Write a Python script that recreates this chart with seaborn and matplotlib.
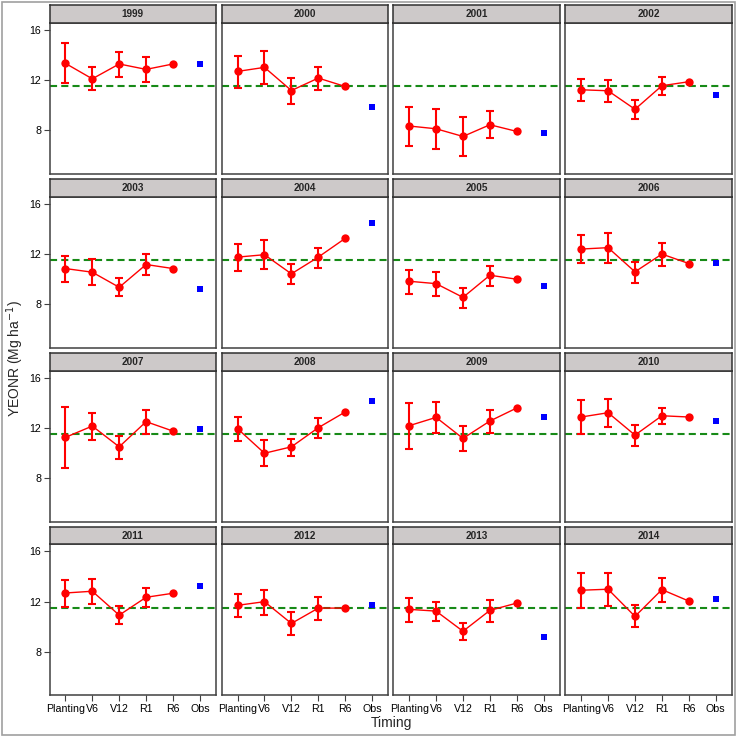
import seaborn as sns
from matplotlib import pyplot as plt
from matplotlib.patches import Rectangle
import pandas as pd
import numpy as np

sns.set_theme(style="white")
plt.rcParams['font.family'] = ['Liberation Sans', 'DejaVu Sans']

years = list(range(1999, 2015))
stages = ['Planting', 'V6', 'V12', 'R1', 'R6', 'Obs']

# simulated YEONR at each timing (Planting, V6, V12, R1, R6)
mean_vals = [
    [13.33, 12.10, 13.28, 12.85, 13.28],
    [12.69, 13.01, 11.17, 12.16, 11.49],
    [8.35, 8.13, 7.52, 8.45, 7.92],
    [11.23, 11.15, 9.68, 11.55, 11.87],
    [10.85, 10.56, 9.36, 11.17, 10.85],
    [11.76, 11.95, 10.43, 11.76, 13.25],
    [9.84, 9.65, 8.56, 10.32, 10.00],
    [12.40, 12.51, 10.59, 12.00, 11.25],
    [11.26, 12.16, 10.51, 12.51, 11.76],
    [11.95, 10.00, 10.51, 12.03, 13.28],
    [12.19, 12.85, 11.18, 12.56, 13.60],
    [12.88, 13.22, 11.44, 12.98, 12.88],
    [12.69, 12.83, 10.93, 12.35, 12.67],
    [11.71, 12.00, 10.27, 11.49, 11.49],
    [11.39, 11.25, 9.65, 11.31, 11.89],
    [12.91, 12.99, 10.83, 12.96, 12.05],
]
# error bar limits (R6 has none)
lower_vals = [
    [11.73, 11.20, 12.27, 11.81, np.nan],
    [11.39, 11.71, 10.13, 11.20, np.nan],
    [6.75, 6.56, 5.95, 7.39, np.nan],
    [10.32, 10.27, 8.88, 10.83, np.nan],
    [9.79, 9.57, 8.64, 10.32, np.nan],
    [10.64, 10.80, 9.60, 10.93, np.nan],
    [8.85, 8.69, 7.73, 9.47, np.nan],
    [11.28, 11.31, 9.71, 11.04, np.nan],
    [8.84, 11.07, 9.55, 11.52, np.nan],
    [10.99, 8.97, 9.77, 11.20, np.nan],
    [10.35, 11.60, 10.14, 11.60, np.nan],
    [11.49, 12.11, 10.59, 12.35, np.nan],
    [11.57, 11.79, 10.19, 11.55, np.nan],
    [10.77, 10.96, 9.36, 10.53, np.nan],
    [10.37, 10.45, 8.96, 10.40, np.nan],
    [11.52, 11.65, 9.95, 11.97, np.nan],
]
upper_vals = [
    [14.93, 13.00, 14.27, 13.84, np.nan],
    [13.92, 14.29, 12.13, 13.07, np.nan],
    [9.89, 9.71, 9.09, 9.57, np.nan],
    [12.11, 11.97, 10.43, 12.24, np.nan],
    [11.87, 11.57, 10.08, 11.97, np.nan],
    [12.83, 13.09, 11.20, 12.51, np.nan],
    [10.77, 10.59, 9.33, 11.07, np.nan],
    [13.49, 13.68, 11.39, 12.91, np.nan],
    [13.70, 13.22, 11.41, 13.46, np.nan],
    [12.85, 11.04, 11.15, 12.80, np.nan],
    [13.97, 14.05, 12.16, 13.41, np.nan],
    [14.21, 14.29, 12.24, 13.57, np.nan],
    [13.76, 13.79, 11.65, 13.07, np.nan],
    [12.59, 12.96, 11.15, 12.40, np.nan],
    [12.32, 12.00, 10.29, 12.13, np.nan],
    [14.24, 14.29, 11.73, 13.89, np.nan],
]
obs_vals = [13.30, 9.87, 7.81, 10.83, 9.20, 14.45, 9.47, 11.33,
            11.95, 14.13, 12.88, 12.53, 13.28, 11.73, 9.20, 12.24]
ref_line = 11.5

rows = []
for i, yr in enumerate(years):
    for j, st in enumerate(stages[:5]):
        rows.append(dict(year=yr, timing=st, pos=j + 1, yeonr=mean_vals[i][j],
                         lo=lower_vals[i][j], hi=upper_vals[i][j]))
sim_df = pd.DataFrame(rows)
obs_df = pd.DataFrame(dict(year=years, timing='Obs', pos=6, yeonr=obs_vals))

W = H = 737.0
fig = plt.figure(figsize=(7.37, 7.37), dpi=100)
fig.patches.append(Rectangle((2 / W, 2 / H), 1 - 4 / W, 1 - 4 / H, transform=fig.transFigure,
                             fill=False, edgecolor='#a0a0a0', linewidth=1.2))

col_left = [49.5, 221.7, 393.3, 565.3]
row_top = [22.7, 196.7, 370.7, 544.3]
pw, ph, sh = 166.3, 151.0, 17.4

for i, yr in enumerate(years):
    r, c = divmod(i, 4)
    left = col_left[c] / W
    bottom = 1 - (row_top[r] + ph) / H
    ax = fig.add_axes([left, bottom, pw / W, ph / H])
    sax = fig.add_axes([left, bottom + ph / H, pw / W, sh / H])

    sd = sim_df[sim_df['year'] == yr]
    od = obs_df[obs_df['year'] == yr]
    ok = sd['lo'].notna()
    ax.errorbar(sd['pos'][ok], sd['yeonr'][ok],
                yerr=[sd['yeonr'][ok] - sd['lo'][ok], sd['hi'][ok] - sd['yeonr'][ok]],
                fmt='none', ecolor='red', elinewidth=1.5, capsize=3.0, capthick=1.5, zorder=3)
    sns.lineplot(data=sd, x='pos', y='yeonr', ax=ax, color='red', linewidth=1.0,
                 marker='o', markersize=6, markeredgewidth=0, zorder=4)
    sns.scatterplot(data=od, x='pos', y='yeonr', ax=ax, color='blue', marker='s',
                    s=25, linewidth=0, zorder=4)
    ax.axhline(ref_line, color='#178a17', linestyle=(0, (3.4, 2.0)), linewidth=1.5, zorder=2)

    ax.set_xlim(0.41, 6.59)
    ax.set_ylim(4.56, 16.56)
    ax.set_xticks(range(1, 7))
    ax.set_yticks([8, 12, 16])
    ax.set_xlabel('')
    ax.set_ylabel('')
    for sp in ax.spines.values():
        sp.set_color('#404040')
        sp.set_linewidth(1.1)
    ax.tick_params(axis='both', direction='out', length=4.5, width=0.8, color='#404040',
                   labelsize=7.7, labelcolor='black', pad=1.5)
    if r == 3:
        ax.tick_params(axis='x', bottom=True)
        ax.set_xticklabels(stages)
    else:
        ax.tick_params(axis='x', bottom=False, labelbottom=False)
    if c == 0:
        ax.tick_params(axis='y', left=True)
        ax.set_yticklabels(['8', '12', '16'])
    else:
        ax.tick_params(axis='y', left=False, labelleft=False)

    sax.set_facecolor('#cdc9c9')
    sax.set_xticks([])
    sax.set_yticks([])
    for sp in sax.spines.values():
        sp.set_color('#303030')
        sp.set_linewidth(1.1)
    sax.text(0.5, 0.5, str(yr), ha='center', va='center', fontsize=7.2,
             fontweight='bold', transform=sax.transAxes)

fig.text(391 / W, 1 - 723 / H, 'Timing', ha='center', va='center', fontsize=10)
fig.text(15 / W, 1 - 358 / H, 'YEONR (Mg ha$^{-1}$)', ha='center', va='center',
         rotation=90, fontsize=10)

plt.savefig('out.png', dpi=100)
